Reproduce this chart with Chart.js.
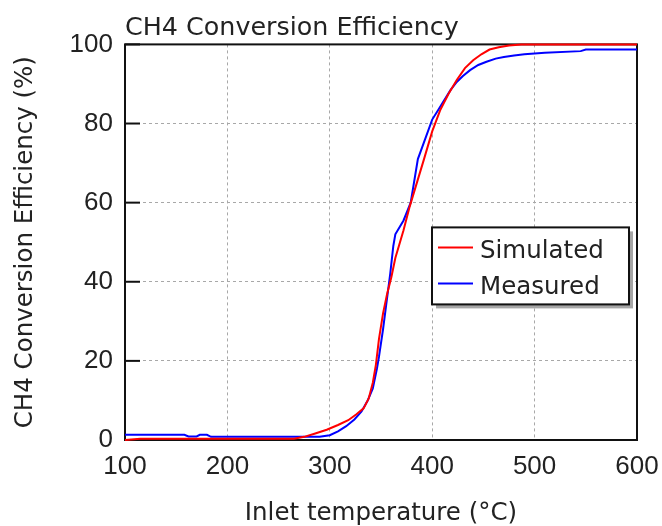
<!DOCTYPE HTML>
<html>
<head>
	<meta charset="utf-8">
	<title>CH4 Conversion Efficiency</title>
	<script src="https://cdn.jsdelivr.net/npm/chart.js@4.4.1/dist/chart.umd.min.js"></script>
	<style>
		body { margin: 0; background: #fff; }
	</style>
</head>

<body>
	<canvas id="myChart" width="662" height="526"></canvas>
	<script>
		// values
		const simTemp = [100, 115, 265, 275, 285, 297, 308, 318, 326, 333, 338, 342, 345, 348, 352, 356, 360, 364, 372, 378, 385, 392, 400, 408, 416, 424, 432, 440, 448, 456, 465, 475, 487, 500, 600];
		const simEff  = [0, 0.3, 0.3, 0.8, 1.6, 2.6, 3.8, 5.0, 6.5, 8.0, 10.5, 14.5, 19, 25.5, 32, 37, 41, 46, 53, 59, 65, 71, 78, 83.5, 87.5, 91, 94, 96, 97.5, 98.7, 99.3, 99.7, 100, 100, 100];

		const measTemp = [100, 158, 162, 170, 173, 180, 184, 290, 300, 308, 316, 324, 331, 337, 342, 346, 348, 352, 355, 359, 362, 364, 372, 379, 386, 393, 400, 406, 412, 418, 424, 430, 437, 445, 453, 462, 470, 480, 490, 500, 510, 545, 550, 600];
		const measEff  = [1.3, 1.3, 0.9, 0.9, 1.3, 1.3, 0.8, 0.8, 1.2, 2.2, 3.5, 5.2, 7.2, 10, 13, 18, 21, 28, 34, 42, 49, 52, 55.5, 60, 71, 76, 81, 83.5, 86, 88.5, 90.5, 92, 93.5, 94.8, 95.6, 96.4, 96.8, 97.2, 97.5, 97.7, 97.9, 98.3, 98.7, 98.7];

		const seriesNames = ['Simulated', 'Measured'];
		const seriesColors = ['#ff0000', '#0000ff'];

		const xTicks = [100, 200, 300, 400, 500, 600];
		const yTicks = [0, 20, 40, 60, 80, 100];

		const titleFont = { family: 'DejaVu Sans', size: 25.4, weight: 'normal', lineHeight: 1 };
		const labelFont = { family: 'DejaVu Sans', size: 24.5, weight: 'normal', lineHeight: 1 };
		const tickFont = { family: 'Liberation Sans', size: 26, lineHeight: 1.2 };

		function toPoints(xs, ys) {
			return xs.map((x, i) => ({ x: x, y: ys[i] }));
		}

		// black frame round the plot, small inner ticks on the left axis
		const framePlugin = {
			id: 'frame',
			beforeDatasetsDraw(chart) {
				const { ctx, chartArea: a } = chart;
				const y = chart.scales.y;
				ctx.save();
				ctx.strokeStyle = '#111';
				ctx.lineWidth = 2;
				ctx.strokeRect(a.left, a.top, a.right - a.left, a.bottom - a.top);
				y.ticks.forEach(t => {
					const py = y.getPixelForValue(t.value);
					ctx.beginPath();
					ctx.moveTo(a.left, py);
					ctx.lineTo(a.left + 15, py);
					ctx.stroke();
				});
				ctx.restore();
			}
		};

		// boxed legend with a drop shadow, inside the plot
		const boxLegend = {
			id: 'boxLegend',
			afterDatasetsDraw(chart) {
				const { ctx, chartArea: a } = chart;
				const bx = a.left + 307, by = a.top + 183, bw = 197, bh = 77;
				ctx.save();
				ctx.fillStyle = '#a6a6a6';
				ctx.fillRect(bx + 4, by + 4, bw, bh);
				ctx.fillStyle = '#fff';
				ctx.fillRect(bx, by, bw, bh);
				ctx.strokeStyle = '#111';
				ctx.lineWidth = 2;
				ctx.strokeRect(bx, by, bw, bh);
				ctx.font = labelFont.size + 'px "' + labelFont.family + '"';
				ctx.textBaseline = 'alphabetic';
				ctx.textAlign = 'left';
				chart.data.datasets.forEach((ds, i) => {
					const ly = by + 20 + i * 36;
					ctx.strokeStyle = ds.borderColor;
					ctx.lineWidth = 2;
					ctx.beginPath();
					ctx.moveTo(bx + 6, ly);
					ctx.lineTo(bx + 41, ly);
					ctx.stroke();
					ctx.fillStyle = '#222';
					ctx.fillText(ds.label, bx + 48, ly + 11);
				});
				ctx.restore();
			}
		};

		const data = {
			datasets: [{
				label: seriesNames[0],
				data: toPoints(simTemp, simEff),
				borderColor: seriesColors[0],
				backgroundColor: seriesColors[0],
			},
			{
				label: seriesNames[1],
				data: toPoints(measTemp, measEff),
				borderColor: seriesColors[1],
				backgroundColor: seriesColors[1],
			}]
		};

		const gridStyle = { color: '#a8a8a8', lineWidth: 1, drawTicks: false };

		const config = {
			type: 'line',
			data: data,
			options: {
				responsive: false,
				animation: false,
				devicePixelRatio: 1,
				layout: { padding: { left: 0, right: 25, top: 0, bottom: 0 } },
				elements: {
					point: { radius: 0, hoverRadius: 0 },
					line: { borderWidth: 2, tension: 0 }
				},
				datasets: { line: { clip: false } },
				plugins: {
					legend: { display: false },
					tooltip: { enabled: false },
					title: {
						display: true,
						text: 'CH4 Conversion Efficiency',
						align: 'start',
						fullSize: false,
						color: '#222',
						font: titleFont,
						padding: { top: 16, bottom: 3 }
					}
				},
				scales: {
					x: {
						type: 'linear',
						min: 100,
						max: 600,
						afterBuildTicks: s => { s.ticks = xTicks.map(v => ({ value: v })); },
						afterFit: s => { s.height = 86; s.paddingLeft = 0; s.paddingRight = 0; },
						grid: gridStyle,
						border: { display: false, dash: [3, 3] },
						ticks: { color: '#222', font: tickFont, padding: 11, maxRotation: 0 },
						title: {
							display: true,
							text: 'Inlet temperature (°C)',
							color: '#222',
							font: labelFont,
							padding: { top: 0, bottom: 0 }
						}
					},
					y: {
						type: 'linear',
						min: 0,
						max: 100,
						afterBuildTicks: s => { s.ticks = yTicks.map(v => ({ value: v })); },
						afterFit: s => { s.width = 125; },
						grid: gridStyle,
						border: { display: false, dash: [3, 3] },
						ticks: { color: '#222', font: tickFont, padding: 12 },
						title: {
							display: true,
							text: 'CH4 Conversion Efficiency (%)',
							color: '#222',
							font: labelFont,
							padding: { top: 13.5, bottom: 0 }
						}
					}
				}
			},
			plugins: [framePlugin, boxLegend]
		};

		const myChart = new Chart(document.getElementById('myChart'), config);
	</script>
</body>
</html>
